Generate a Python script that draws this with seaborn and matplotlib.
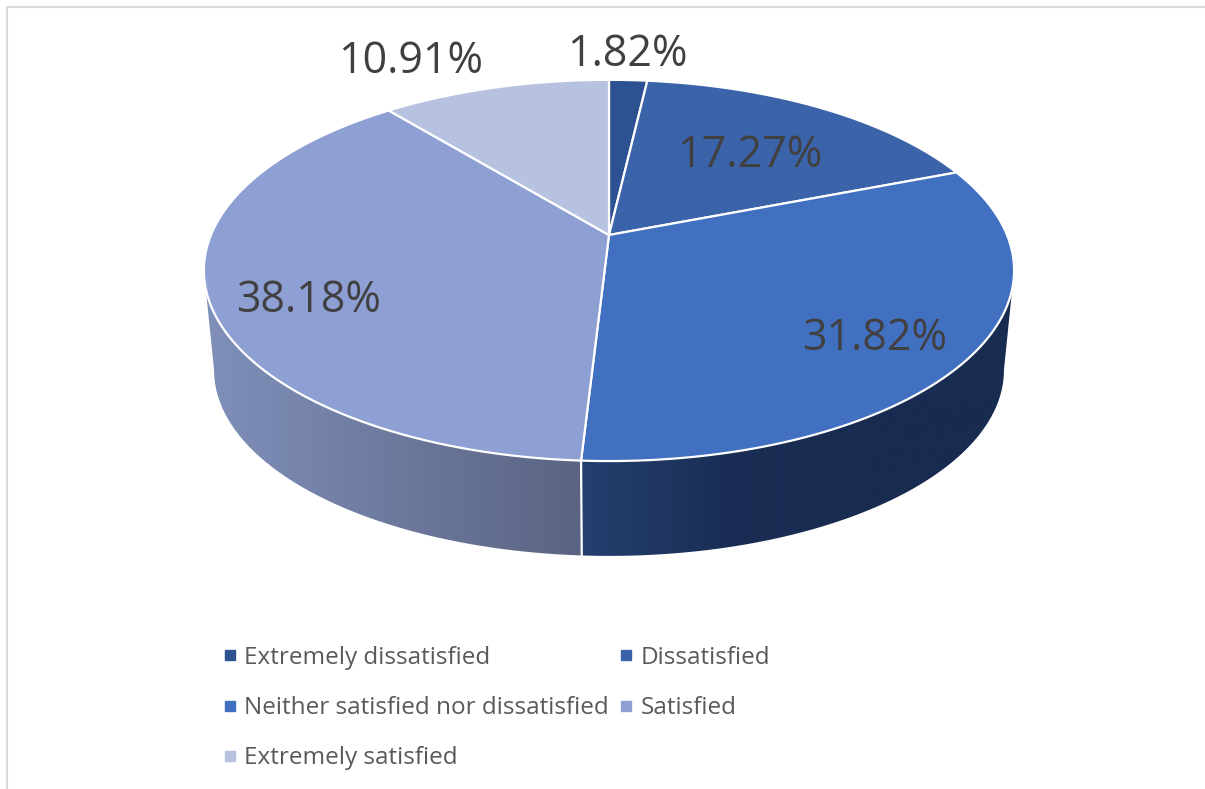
import matplotlib
matplotlib.use("Agg")
import matplotlib.pyplot as plt
import numpy as np
import seaborn as sns
from matplotlib.colors import LinearSegmentedColormap
from matplotlib.lines import Line2D
from matplotlib.patches import Polygon

categories = ["Extremely dissatisfied", "Dissatisfied", "Neither satisfied nor dissatisfied",
              "Satisfied", "Extremely satisfied"]
shares = [1.82, 17.27, 31.82, 38.18, 10.91]
colors = ["#2c5292", "#3b63aa", "#4170c1", "#8e9fd3", "#b7c1e0"]
label_pos = [(627, 55), (750, 156), (875, 339), (309, 301), (411, 62)]

# tilted disc, fitted to the picture (pixel space)
cx, cy = 609, 235
rx, ry, tilt = 398, 184, 0.186
depth_scale, depth_cy = 0.975, 335.5


def project(theta, scale=1.0, centre=cy):
    w = 1 + tilt * np.cos(theta)
    return cx + scale * rx * np.sin(theta) / w, centre - scale * ry * np.cos(theta) / w


def side_wall(ax, t0, t1, cmap_colors):
    t = np.linspace(t0, t1, 200)
    xt, yt = project(t)
    xb, yb = project(t[::-1], depth_scale, depth_cy)
    pts = np.column_stack([np.r_[xt, xb], np.r_[yt, yb]])
    patch = Polygon(pts, closed=True, fc="none", ec="none")
    ax.add_patch(patch)
    cmap = LinearSegmentedColormap.from_list("wall", cmap_colors)
    grad = np.linspace(0, 1, 256).reshape(1, -1)
    im = ax.imshow(grad, cmap=cmap, aspect="auto", zorder=1,
                   extent=(pts[:, 0].min(), pts[:, 0].max(), 789, 0))
    im.set_clip_path(patch)


sns.set_theme(style="white")
plt.rcParams["font.family"] = ["Open Sans", "DejaVu Sans"]

fig, ax = plt.subplots(figsize=(12.05, 7.89), dpi=100)
fig.subplots_adjust(0, 0, 1, 1)

edges = np.radians(np.r_[0, np.cumsum(shares)] * 3.6)
widest = np.arccos(-tilt)

# sides first, the seam falls where the third slice ends
seam = edges[3]
side_wall(ax, widest, seam, ["#24406f", "#1a2e55", "#182b50", "#182b50"])
side_wall(ax, seam, 2 * np.pi - widest, ["#8090ba", "#5a6482"])
xs0, ys0 = project(seam)
xs1, ys1 = project(seam, depth_scale, depth_cy)
ax.plot([xs0, xs1], [ys0, ys1], color="white", lw=1.6, zorder=2)

for i, share in enumerate(shares):
    t = np.linspace(edges[i], edges[i + 1], 200)
    x, y = project(t)
    ax.fill(np.r_[cx, x], np.r_[cy, y], fc=colors[i], ec="white", lw=1.6, zorder=3,
            joinstyle="round")
    ax.text(*label_pos[i], f"{share:.2f}%", fontsize=31, color="#404040",
            ha="center", va="center", zorder=4)

ax.set_xlim(0, 1205)
ax.set_ylim(789, 0)
ax.axis("off")

# outer frame of the chart area
ax.plot([7, 7, 1205], [789, 7, 7], color="#d9d9d9", lw=1.5, zorder=0)

handles = [Line2D([], [], ls="none", marker="s", ms=7.5, color=c) for c in colors]
order = [0, 2, 4, 1, 3]
leg = ax.legend([handles[i] for i in order], [categories[i] for i in order], ncol=2,
                loc="upper left", bbox_to_anchor=(220 / 1205, 1 - 646 / 789),
                frameon=False, fontsize=17.5, labelcolor="#595959", borderpad=0,
                borderaxespad=0, handlelength=0.8, handletextpad=0.2,
                labelspacing=1.07, columnspacing=0.31)

fig.savefig("out.png", dpi=100)
